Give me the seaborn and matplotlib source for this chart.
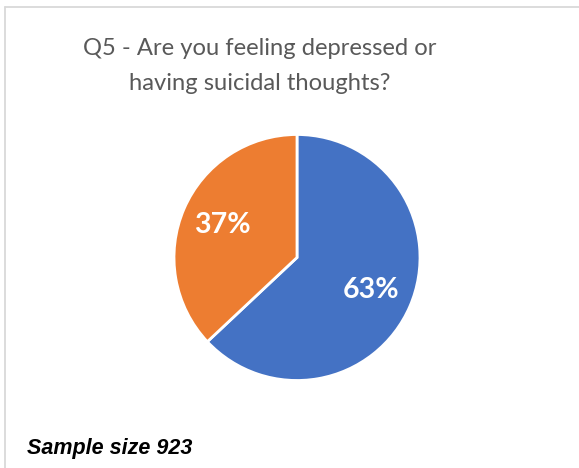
import matplotlib
matplotlib.use("Agg")
import matplotlib.pyplot as plt
from matplotlib.lines import Line2D
import seaborn as sns

# Survey answers
categories = ["Yes", "No"]
shares = [63, 37]
slice_colors = ["#4472C4", "#ED7D31"]
title_lines = ["Q5 - Are you feeling depressed or", "having suicidal thoughts?"]
footnote = "Sample size 923"

sns.set_theme(style="white")
plt.rcParams["font.family"] = ["Lato", "DejaVu Sans"]

W, H = 579, 468
fig = plt.figure(figsize=(W / 100, H / 100), dpi=100)
fig.patch.set_facecolor("white")

# Pie axes: centre (297, 257.5) px, radius 123 px
cx, cy, r = 297, 257.5, 123
ax = fig.add_axes([(cx - r) / W, (H - cy - r) / H, 2 * r / W, 2 * r / H])
wedges, _, autotexts = ax.pie(
    shares,
    colors=slice_colors,
    startangle=90,
    counterclock=False,
    autopct=lambda p: f"{p:.0f}%",
    pctdistance=0.66,
    radius=1.0,
    wedgeprops=dict(edgecolor="white", linewidth=2),
    textprops=dict(color="white", fontsize=20.5, fontweight="bold"),
)
ax.set_xlim(-1, 1)
ax.set_ylim(-1, 1)
ax.set_aspect("equal")
ax.axis("off")

# Title
fig.text(260 / W, 1 - 55 / H, title_lines[0], ha="center", va="baseline",
         fontsize=17.1, color="#595959")
fig.text(260 / W, 1 - 90 / H, title_lines[1], ha="center", va="baseline",
         fontsize=17.1, color="#595959")

# Footnote
fig.text(27 / W, 1 - 454 / H, footnote, ha="left", va="baseline",
         fontsize=15.5, fontweight="bold", fontstyle="italic",
         family=["Liberation Sans", "DejaVu Sans"], color="black")

# Chart frame (top and left edges)
frame_color = "#D9D9D9"
fig.add_artist(Line2D([4.5 / W, 1.0], [1 - 6.5 / H, 1 - 6.5 / H],
                      transform=fig.transFigure, color=frame_color, linewidth=1.3))
fig.add_artist(Line2D([5 / W, 5 / W], [1 - 6.5 / H, 0.0],
                      transform=fig.transFigure, color=frame_color, linewidth=1.3))

fig.savefig("out.png", dpi=100)
